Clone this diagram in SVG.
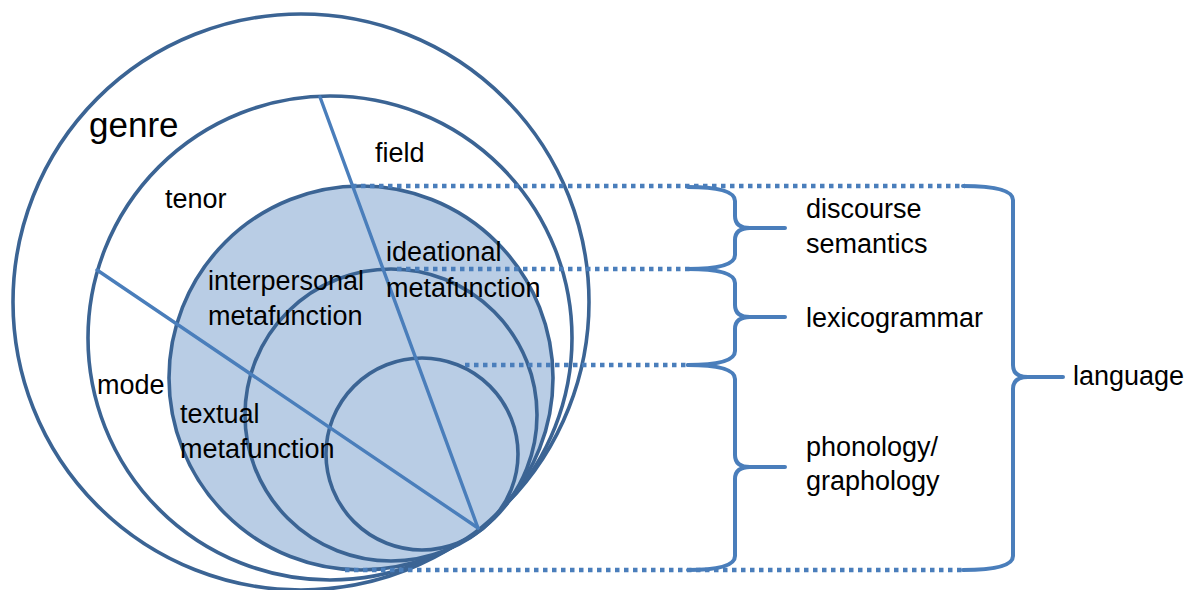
<svg xmlns="http://www.w3.org/2000/svg" width="1191" height="590" viewBox="0 0 1191 590">
  <style>
    .ring { fill: none; stroke: #3b6494; stroke-width: 3.6; }
    .ringfill { fill: #b9cde5; stroke: #3b6494; stroke-width: 3.6; }
    .radial { stroke: #4a7ebb; stroke-width: 3.4; fill: none; stroke-linecap: round; }
    .dots { stroke: #4a7ebb; stroke-width: 4.5; stroke-dasharray: 4.5 4.5; fill: none; }
    .brace { stroke: #4a7ebb; stroke-width: 4; fill: none; stroke-linejoin: round; stroke-linecap: round; }
    .lbl { font-family: "Liberation Sans", Arial, sans-serif; font-size: 27px; fill: #000; }
    .big { font-size: 35px; }
  </style>
  <rect width="1191" height="590" fill="#ffffff"/>

  <g id="genre">
    <circle class="ring" cx="301" cy="302" r="288" fill="#ffffff"/>
  </g>
  <g id="register">
    <circle class="ring" cx="330" cy="338" r="242"/>
  </g>
  <g id="discourse-semantics-circle">
    <circle class="ringfill" cx="361" cy="378" r="192"/>
  </g>
  <g id="lexicogrammar-circle">
    <circle class="ring" cx="391" cy="415" r="146"/>
  </g>
  <g id="phonology-circle">
    <circle class="ring" cx="422" cy="454" r="96"/>
  </g>

  <g id="connectors">
    <line class="radial" x1="320" y1="97" x2="478" y2="528"/>
    <line class="radial" x1="97" y1="270" x2="478" y2="528"/>
    <line class="dots" x1="352" y1="186" x2="965" y2="186"/>
    <line class="dots" x1="397" y1="269" x2="690" y2="269"/>
    <line class="dots" x1="465" y1="365" x2="690" y2="365"/>
    <line class="dots" x1="345" y1="570" x2="965" y2="570"/>
    <path class="brace" d="M688,187 Q735,187 735,201 L735,216 Q735,228 750,228 L785,228 M750,228 Q735,228 735,240 L735,255 Q735,269 688,269"/>
    <path class="brace" d="M688,269 Q735,269 735,283 L735,305 Q735,317 750,317 L785,317 M750,317 Q735,317 735,329 L735,351 Q735,365 688,365"/>
    <path class="brace" d="M688,365 Q735,365 735,379 L735,455 Q735,467 750,467 L785,467 M750,467 Q735,467 735,479 L735,556 Q735,570 688,570"/>
    <path class="brace" d="M963,186 Q1013,186 1013,200 L1013,365 Q1013,377 1028,377 L1063,377 M1028,377 Q1013,377 1013,389 L1013,556 Q1013,570 963,570"/>
  </g>

  <g id="labels">
    <text class="lbl big" x="89" y="137">genre</text>
    <text class="lbl" x="375" y="162">field</text>
    <text class="lbl" x="165" y="208">tenor</text>
    <text class="lbl" x="97" y="394">mode</text>
    <text class="lbl" x="386" y="261">ideational</text>
    <text class="lbl" x="386" y="297">metafunction</text>
    <text class="lbl" x="208" y="290">interpersonal</text>
    <text class="lbl" x="208" y="325">metafunction</text>
    <text class="lbl" x="180" y="423">textual</text>
    <text class="lbl" x="180" y="458">metafunction</text>
    <text class="lbl" x="806" y="218">discourse</text>
    <text class="lbl" x="806" y="253">semantics</text>
    <text class="lbl" x="806" y="327">lexicogrammar</text>
    <text class="lbl" x="806" y="456">phonology/</text>
    <text class="lbl" x="806" y="490">graphology</text>
    <text class="lbl" x="1073" y="385">language</text>
  </g>
</svg>
